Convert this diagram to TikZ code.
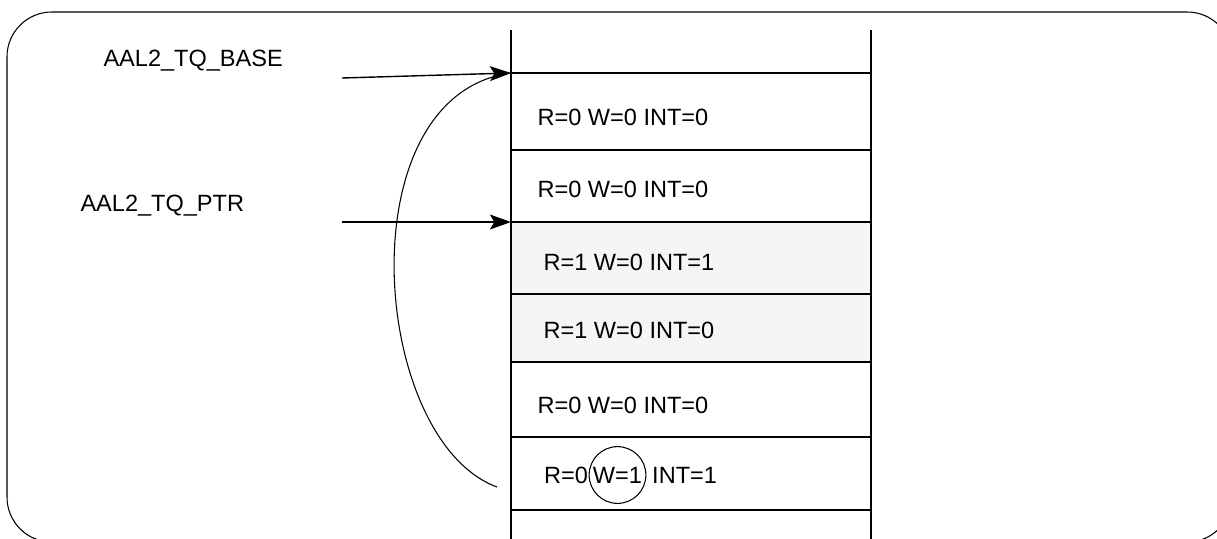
\documentclass[tikz,border=0pt]{standalone}
\usepackage{fontspec}
\setmainfont{Liberation Sans}
\usetikzlibrary{arrows.meta, positioning}

\tikzset{
    rowtext/.style={anchor=west, inner sep=0pt, font=\fontsize{13.4}{15}\selectfont},
    ptrlabel/.style={anchor=west, inner sep=0pt, font=\fontsize{13.4}{15}\selectfont},
    wcircle/.style={circle, draw, line width=0.6pt, inner sep=0pt, minimum size=32.3pt, font=\fontsize{13.4}{15}\selectfont},
    ptrarrow/.style={-{Stealth[length=12pt, width=8.5pt, inset=2.5pt]}, line width=0.8pt},
}

\begin{document}
\begin{tikzpicture}[x=0.02cm, y=-0.02cm, line width=0.6pt]
    \useasboundingbox (0,0) rectangle (1217,538);
    \clip (0,0) rectangle (1217,538);

    % Khung ngoài
    \draw[rounded corners=45*0.5669pt] (7,12) rectangle (1232,542);

    % Các ô được tô
    \fill[gray!8] (511,222) rectangle (871,362);

    % Hai cạnh dọc của hàng đợi
    \draw[line width=0.8pt] (511,30) -- (511,545);
    \draw[line width=0.8pt] (871,30) -- (871,545);

    % Các đường ngăn ô
    \foreach \y in {73,150,222,294,362,437,510} {
        \draw[line width=0.8pt] (511,\y) -- (871,\y);
    }

    % Nội dung các ô
    \node[rowtext] (row1) at (537,117) {R=0 W=0 INT=0};
    \node[rowtext] (row2) at (537,189) {R=0 W=0 INT=0};
    \node[rowtext] (row3) at (543,262) {R=1 W=0 INT=1};
    \node[rowtext] (row4) at (543,330) {R=1 W=0 INT=0};
    \node[rowtext] (row5) at (537,405) {R=0 W=0 INT=0};
    \node[wcircle] (row6w) at (617.5,475) {W=1};
    \node[rowtext, left=0pt of row6w] (row6r) {R=0};
    \node[rowtext, right=3pt of row6w] (row6i) {INT=1};

    % Con trỏ
    \node[ptrlabel] (base) at (103,61) {AAL2\_TQ\_BASE};
    \node[ptrlabel] (ptr) at (80,205.5) {AAL2\_TQ\_PTR};
    \coordinate (baseTail) at (342,78);
    \coordinate (baseTip) at (511,73);
    \coordinate (ptrTail) at (342,222);
    \coordinate (ptrTip) at (511,222);
    \coordinate (wrapStart) at (497,487);

    \draw (wrapStart) .. controls (370,440) and (345,95) .. (baseTip);
    \draw[ptrarrow] (baseTail) -- (baseTip);
    \draw[ptrarrow] (ptrTail) -- (ptrTip);
\end{tikzpicture}
\end{document}
